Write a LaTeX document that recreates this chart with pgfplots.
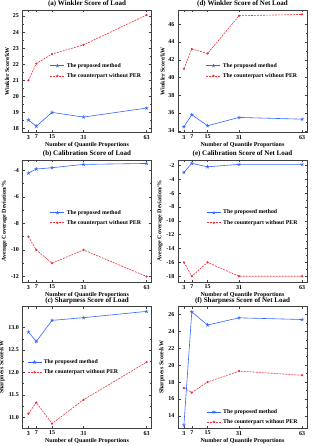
\documentclass[border=0pt]{standalone}
\usepackage{fontspec}
\setmainfont{Liberation Serif}
\usepackage{pgfplots}
\pgfplotsset{compat=1.18}
\definecolor{pblue}{RGB}{51,102,255}
\definecolor{pred}{RGB}{235,50,60}
\pgfplotsset{
 every axis title/.style={at={(0.5,1)}, anchor=base, yshift=4pt, inner sep=0pt},
 myax/.style={
  scale only axis, width=129pt, height=122.5pt, anchor=north west,
  xmin=0, xmax=65.5, xtick={3,7,15,31,63},
  /pgf/number format/assume math mode=true,
  tick label style={font=\bfseries\fontsize{6}{7}\selectfont},
  label style={font=\bfseries\fontsize{6}{7}\selectfont},
  title style={font=\bfseries\fontsize{7}{8}\selectfont},
  xlabel={Number of Quantile Proportions},
  xlabel style={yshift=4pt},
  ylabel style={yshift=-3pt},
  xticklabel style={yshift=1pt},
  axis line style={black!75, line width=0.5pt},
  major tick length=2.5pt, minor tick length=1.3pt,
  every tick/.style={black!75, line width=0.4pt},
  minor y tick num=1,
  legend style={draw=none, fill=none, font=\bfseries\fontsize{5.8}{6.5}\selectfont, inner sep=0pt, row sep=0.5pt, anchor=north west, cells={anchor=west}},
  legend image code/.code={\draw[mark repeat=2,mark phase=2,##1] plot coordinates {(0pt,0pt)(7pt,0pt)(14pt,0pt)};},
 },
 bl/.style={pblue, line width=0.6pt, mark=star, mark size=1.8pt, mark options={solid}},
 rd/.style={pred, dash pattern=on 2pt off 1pt, line width=0.6pt, mark=*, mark size=0.8pt, mark options={solid}},
}
\begin{document}
\begin{tikzpicture}
\useasboundingbox (0,0) rectangle (311pt,-446pt);
% (a)
\begin{axis}[myax, at={(22.5pt,-10pt)}, title={(a) Winkler Score of Load},
  ylabel={Winkler Score/kW}, ymin=17.75, ymax=25.37, ytick={18,...,25},
  legend style={at={(0.213,0.585)}}]
\addplot[bl] coordinates {(3,18.53)(7,18.14)(15,19.0)(31,18.71)(63,19.27)};
\addplot[rd] coordinates {(3,20.99)(7,22.04)(15,22.63)(31,23.2)(63,25.06)};
\legend{The proposed method, The counterpart without PER}
\end{axis}
% (d)
\begin{axis}[myax, at={(178pt,-10pt)}, title={(d) Winkler Score of Net Load},
  ylabel={Winkler Score/kW}, ymin=33.8, ymax=47.6, ytick={34,36,...,46},
  legend style={at={(0.217,0.585)}}]
\addplot[bl] coordinates {(3,34.45)(7,35.8)(15,34.56)(31,35.5)(63,35.3)};
\addplot[rd] coordinates {(3,40.97)(7,43.2)(15,42.7)(31,46.95)(63,47.1)};
\legend{The proposed method, The counterpart without PER}
\end{axis}
% (b)
\begin{axis}[myax, at={(22.5pt,-160pt)}, title={(b) Calibration Score of Load},
  ylabel={Average Coverage Deviation/\%}, ymin=-12.45, ymax=-3.24, ytick={-12,-10,...,-4},
  legend style={at={(0.213,0.61)}}]
\addplot[bl] coordinates {(3,-4.23)(7,-3.92)(15,-3.82)(31,-3.57)(63,-3.5)};
\addplot[rd] coordinates {(3,-9)(7,-10)(15,-11)(31,-10)(63,-12)};
\legend{The proposed method, The counterpart without PER}
\end{axis}
% (e)
\begin{axis}[myax, at={(178pt,-160pt)}, title={(e) Calibration Score of Net Load},
  ylabel={Average Coverage Deviation/\%}, ymin=-18.9, ymax=-1.22, ytick={-18,-16,...,-2},
  legend style={at={(0.22,0.61)}}]
\addplot[bl] coordinates {(3,-3.0)(7,-1.7)(15,-2.2)(31,-1.85)(63,-1.85)};
\addplot[rd] coordinates {(3,-16)(7,-18)(15,-16)(31,-18)(63,-18)};
\legend{The proposed method, The counterpart without PER}
\end{axis}
% (c)
\begin{axis}[myax, at={(22.5pt,-306pt)}, title={(c) Sharpness Score of Load},
  ylabel={Sharpness Score/kW}, ymin=10.75, ymax=13.48, ytick={11,11.5,...,13},
  yticklabel style={/pgf/number format/fixed, /pgf/number format/fixed zerofill, /pgf/number format/precision=1},
  legend style={at={(0.035,0.582)}}]
\addplot[bl] coordinates {(3,12.9)(7,12.69)(15,13.16)(31,13.22)(63,13.36)};
\addplot[rd] coordinates {(3,11.08)(7,11.33)(15,10.86)(31,11.39)(63,12.23)};
\legend{The proposed method, The counterpart without PER}
\end{axis}
% (f)
\begin{axis}[myax, at={(178pt,-306pt)}, title={(f) Sharpness Score of Net Load},
  ylabel={Sharpness Score/kW}, ymin=12.5, ymax=27.0, ytick={14,16,...,26},
  legend style={at={(0.22,0.175)}}]
\addplot[bl] coordinates {(3,12.9)(7,26.3)(15,24.75)(31,25.6)(63,25.4)};
\addplot[rd] coordinates {(3,17.3)(7,16.75)(15,18.0)(31,19.3)(63,18.8)};
\legend{The proposed method, The counterpart without PER}
\end{axis}
\end{tikzpicture}
\end{document}
